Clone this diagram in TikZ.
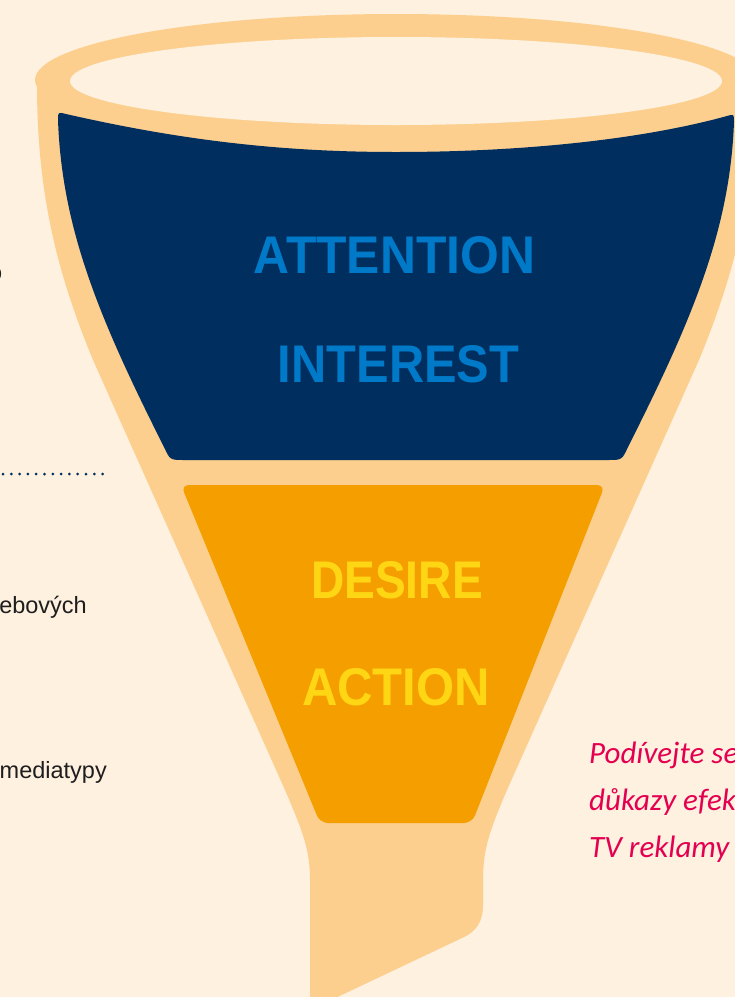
\documentclass[tikz,border=0pt]{standalone}
\usepackage{fontspec}
\setmainfont{Liberation Sans}
\newfontfamily\handfont{Carlito}
\usepackage{graphicx}
\definecolor{bgc}{RGB}{254,241,223}
\definecolor{funnelc}{RGB}{252,207,143}
\definecolor{navyc}{RGB}{0,46,94}
\definecolor{orangec}{RGB}{245,158,0}
\definecolor{bluetxt}{RGB}{0,122,200}
\definecolor{yellowtxt}{RGB}{255,214,20}
\definecolor{pinktxt}{RGB}{228,0,80}
\definecolor{graytxt}{RGB}{30,30,30}
\tikzset{
  bigword/.style={anchor=base,inner sep=0pt,font=\bfseries\fontsize{53}{60}\selectfont},
  sidetxt/.style={anchor=base east,inner sep=0pt,text=graytxt,font=\fontsize{23.5}{28}\selectfont},
  handtxt/.style={anchor=base west,inner sep=0pt,text=pinktxt,font=\handfont\itshape\fontsize{31}{36}\selectfont},
}
\begin{document}
\begin{tikzpicture}[x=1pt,y=-1pt]
\useasboundingbox (0,0) rectangle (735,997);
\fill[bgc] (0,0) rectangle (735,997);
\begin{scope}
\clip (0,0) rectangle (735,997);
% funnel body
\fill[funnelc] (37,85) .. controls (37,200) and (60,280) .. (93,360)
  -- (285,790) .. controls (303,832) and (310,850) .. (310,880)
  -- (310,1010)
  -- (462,938) .. controls (476,932) and (483,922) .. (483,905)
  -- (483,880) .. controls (483,850) and (489,832) .. (507,790)
  -- (699,360) .. controls (732,280) and (755,200) .. (755,85)
  -- cycle;
% rim
\fill[funnelc] (396,80) ellipse [x radius=361, y radius=66];
\fill[bgc] (396,81) ellipse [x radius=326, y radius=44];
% navy section
\fill[navyc] (58,120) .. controls (62,230) and (100,320) .. (164,447)
  .. controls (170,460) .. (184,460)
  -- (608,460) .. controls (622,460) .. (628,447)
  .. controls (692,320) and (730,230) .. (734,122)
  .. controls (734,114) .. (727,116)
  .. controls (640,140) and (520,152) .. (396,152)
  .. controls (280,152) and (180,140) .. (66,114)
  .. controls (58,112) .. (58,120) -- cycle;
% orange section
\fill[orangec, rounded corners=8] (181,485) -- (605,485) -- (472,823) -- (320,823) -- cycle;
% dotted separator
\coordinate (dotA) at (3,474);
\coordinate (dotB) at (110,474);
\draw[navyc, line width=3pt, line cap=round, dash pattern=on 0pt off 8.3pt] (dotA) -- (dotB);
% words
\node[bigword, text=bluetxt] (attn) at (394.5,273) {\scalebox{0.94}[1]{ATTENTION}};
\node[bigword, text=bluetxt] (intr) at (398.5,382) {\scalebox{0.92}[1]{INTEREST}};
\node[bigword, text=yellowtxt] (desi) at (397,598) {\scalebox{0.87}[1]{DESIRE}};
\node[bigword, text=yellowtxt] (actn) at (396,705) {\scalebox{0.925}[1]{ACTION}};
% side texts
\node[sidetxt] (sliver) at (2.5,280) {o};
\node[sidetxt] (webt) at (87,613) {ebových};
\node[sidetxt] (medt) at (107,778) {mediatypy};
% handwritten note
\node[handtxt] (h1) at (589,763) {Podívejte se};
\node[handtxt] (h2) at (589,810) {důkazy efektivity};
\node[handtxt] (h3) at (589,857) {TV reklamy};
\end{scope}
\end{tikzpicture}
\end{document}
